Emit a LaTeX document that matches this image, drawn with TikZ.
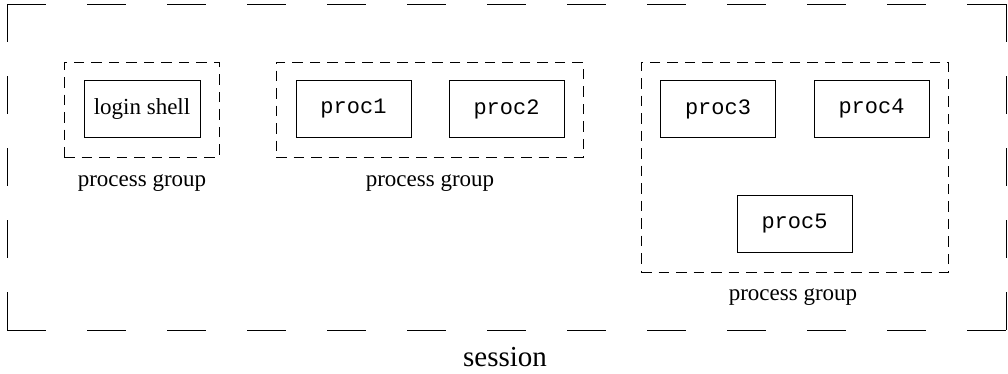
\documentclass[tikz,border=0pt]{standalone}
\usepackage{fontspec}
\setmainfont{Liberation Serif}
\setmonofont{Liberation Mono}
\begin{document}
\begin{tikzpicture}[x=1pt,y=-1pt,
  procbox/.style={draw,line width=0.8pt,minimum width=115pt,minimum height=57pt,inner sep=0pt,
    font=\fontsize{22}{26}\selectfont\ttfamily},
  groupbox/.style={draw,line width=0.8pt,dash pattern=on 10.5pt off 7pt,inner sep=0pt},
  grouplabel/.style={anchor=base,inner sep=0pt,font=\fontsize{23}{27}\selectfont},
  sessionside/.style={line width=1pt}
]
\useasboundingbox (0,0) rectangle (1008,373);
% session corners
\coordinate (s1) at (7,4);
\coordinate (s2) at (1006,4);
\coordinate (s3) at (1006,330);
\coordinate (s4) at (7,330);
\draw[sessionside,dash pattern=on 39pt off 41pt] (s1) -- (s2);
\draw[sessionside,dash pattern=on 39pt off 41pt] (s4) -- (s3);
\draw[sessionside,dash pattern=on 38pt off 34pt] (s1) -- (s4);
\draw[sessionside,dash pattern=on 38pt off 34pt] (s2) -- (s3);
\node[anchor=base,inner sep=0pt,font=\fontsize{29}{33}\selectfont] (session) at (505,366) {session};

% group 1
\node[groupbox,minimum width=155pt,minimum height=95pt] (g1) at (141.5,109.5) {};
\node[procbox,minimum width=116pt,font=\fontsize{23}{27}\selectfont] (login) at (142,108.5) {login shell};
\node[grouplabel] (l1) at (142,186) {process group};

% group 2
\node[groupbox,minimum width=307pt,minimum height=95pt] (g2) at (429.5,109.5) {};
\node[procbox] (p1) at (353.5,109) {proc1};
\node[procbox] (p2) at (506.5,109) {proc2};
\node[grouplabel] (l2) at (430,186) {process group};

% group 3
\node[groupbox,minimum width=307pt,minimum height=210pt] (g3) at (794.5,167) {};
\node[procbox] (p3) at (718,109) {proc3};
\node[procbox] (p4) at (871.5,109) {proc4};
\node[procbox] (p5) at (794.5,224) {proc5};
\node[grouplabel] (l3) at (793,300) {process group};
\end{tikzpicture}
\end{document}
